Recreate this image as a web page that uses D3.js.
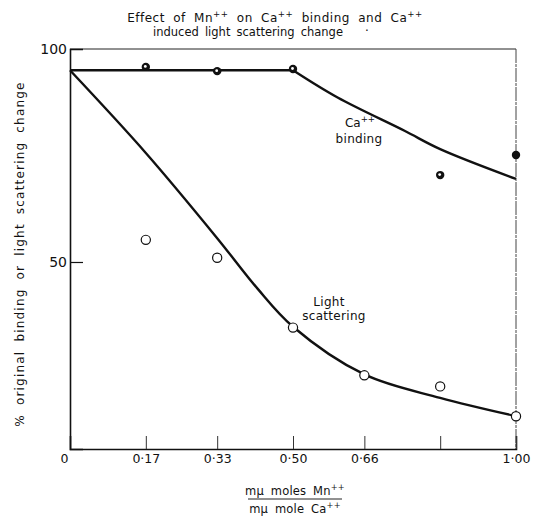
<!DOCTYPE html>
<html>
<head>
<meta charset="utf-8">
<title>Effect of Mn++ on Ca++ binding</title>
<script src="https://cdnjs.cloudflare.com/ajax/libs/d3/7.8.5/d3.min.js"></script>
<style>
	body { margin: 0; background: #fff; }
	text { font-family: "DejaVu Sans", sans-serif; fill: #111; }
</style>
</head>
<body>
<script>
	// ratio Mn/Ca (x) and % of original (y)
	var xTicks = [0, 0.17, 0.33, 0.50, 0.66, 0.83, 1.00];
	var xTickLabels = ['0', '0\u00b717', '0\u00b733', '0\u00b750', '0\u00b766', '', '1\u00b700'];
	var yTicks = [100, 50];

	// measured points
	var caX = [0.17, 0.33, 0.50, 0.83, 1.00];
	var caY = [95.8, 94.8, 95.3, 70.4, 75.1];
	var lightX = [0.17, 0.33, 0.50, 0.66, 0.83, 1.00];
	var lightY = [55.2, 51.0, 34.6, 23.4, 20.8, 13.8];

	// hand drawn fitted curves
	var caFlatX = [0, 0.50];
	var caFlatY = [95, 95];
	var caCurveX = [0.50, 0.60, 0.75, 0.83, 1.00];
	var caCurveY = [95, 88.6, 80.8, 76.5, 69.5];
	var lightCurveX = [0, 0.17, 0.33, 0.42, 0.50, 0.66, 0.83, 1.00];
	var lightCurveY = [95, 75.6, 55.6, 43.8, 34.8, 23.6, 18.1, 13.8];

	var width = 533, height = 518;
	var margin = {left: 70, right: 17, top: 49, bottom: 69};

	var svg = d3.select('body').append('svg')
		.attr('width', width)
		.attr('height', height);

	var x = d3.scaleLinear().domain([0, 1]).range([margin.left, width - margin.right]);
	var y = d3.scaleLinear().domain([6.1, 100]).range([height - margin.bottom, margin.top]);

	// frame: top and right thin
	svg.append('line')
		.attr('x1', x(0)).attr('x2', x(1))
		.attr('y1', y(100)).attr('y2', y(100))
		.attr('stroke', '#222').attr('stroke-width', 1);
	svg.append('line')
		.attr('x1', x(1)).attr('x2', x(1))
		.attr('y1', y(100)).attr('y2', y(6.1))
		.attr('stroke', '#444').attr('stroke-width', 1)
		.attr('stroke-dasharray', '14,1,3,1');

	// x axis, ticks pointing in
	var xAxis = d3.axisBottom(x)
		.tickValues(xTicks)
		.tickSize(-13)
		.tickPadding(5)
		.tickFormat(function (d, i) { return xTickLabels[i]; });
	var gx = svg.append('g')
		.attr('transform', 'translate(0,' + y(6.1) + ')')
		.call(xAxis);
	gx.select('.domain').attr('stroke', '#111').attr('stroke-width', 1.6);
	gx.selectAll('.tick line').attr('stroke', '#333').attr('stroke-width', 1);
	gx.selectAll('.tick text')
		.attr('font-size', 12.5)
		.attr('font-family', '"DejaVu Sans", sans-serif')
		.attr('dx', function (d) { return d === 0 ? -6 : 0; });

	// y axis
	var yAxis = d3.axisLeft(y)
		.tickValues(yTicks)
		.tickSize(-13)
		.tickPadding(3)
		.tickFormat(d3.format('d'));
	var gy = svg.append('g')
		.attr('transform', 'translate(' + x(0) + ',0)')
		.call(yAxis);
	gy.select('.domain').attr('stroke', '#111').attr('stroke-width', 1.6);
	gy.selectAll('.tick line').attr('stroke', '#111').attr('stroke-width', 1.2);
	gy.selectAll('.tick text')
		.attr('font-size', 14)
		.attr('font-family', '"DejaVu Sans", sans-serif')
		.attr('x', -3);
	gy.selectAll('.tick')
		.filter(function (d) { return d === 100; })
		.select('line').remove();

	// curves
	var straight = d3.line()
		.x(function (d) { return x(d[0]); })
		.y(function (d) { return y(d[1]); });
	var smooth = d3.line()
		.x(function (d) { return x(d[0]); })
		.y(function (d) { return y(d[1]); })
		.curve(d3.curveCatmullRom.alpha(0.5));

	svg.append('path')
		.datum(d3.zip(caFlatX, caFlatY))
		.attr('d', straight)
		.attr('fill', 'none')
		.attr('stroke', '#111')
		.attr('stroke-width', 2.4);

	svg.append('path')
		.datum(d3.zip(caCurveX, caCurveY))
		.attr('d', smooth)
		.attr('fill', 'none')
		.attr('stroke', '#111')
		.attr('stroke-width', 2.4);

	svg.append('path')
		.datum(d3.zip(lightCurveX, lightCurveY))
		.attr('d', smooth)
		.attr('fill', 'none')
		.attr('stroke', '#111')
		.attr('stroke-width', 2.4);

	// Ca++ binding points: dark dots with a little white centre
	var ca = svg.append('g').selectAll('g')
		.data(d3.zip(caX, caY))
		.enter()
		.append('g')
		.attr('transform', function (d) { return 'translate(' + x(d[0]) + ',' + y(d[1]) + ')'; });
	ca.append('circle')
		.attr('r', 4.2)
		.attr('fill', '#111');
	ca.filter(function (d) { return d[0] < 1; })
		.append('circle')
		.attr('r', 1.4)
		.attr('cx', -0.5).attr('cy', -0.5)
		.attr('fill', '#fff');

	// light scattering points: open circles
	svg.append('g').selectAll('circle')
		.data(d3.zip(lightX, lightY))
		.enter()
		.append('circle')
		.attr('cx', function (d) { return x(d[0]); })
		.attr('cy', function (d) { return y(d[1]); })
		.attr('r', 4.6)
		.attr('fill', '#fff')
		.attr('stroke', '#111')
		.attr('stroke-width', 1.2);

	// text with ++ superscripts; parts alternate plain and sup
	function supText(parent, px, py, parts, size, spacing, wordSpacing) {
		var t = parent.append('text')
			.attr('x', px).attr('y', py)
			.attr('font-size', size)
			.attr('text-anchor', 'middle')
			.attr('letter-spacing', spacing || 0)
			.attr('word-spacing', wordSpacing == null ? 4 : wordSpacing);
		var raised = false;
		parts.forEach(function (p) {
			var s = t.append('tspan');
			if (p.sup) {
				s.attr('dy', -size * 0.42).attr('font-size', size * 0.72).text(p.sup);
				raised = true;
			} else {
				if (raised) s.attr('dy', size * 0.42);
				raised = false;
				s.text(p.t);
			}
		});
		return t;
	}

	// title
	supText(svg, 275, 22, [
		{t: 'Effect of Mn'}, {sup: '++'}, {t: ' on Ca'}, {sup: '++'},
		{t: ' binding and Ca'}, {sup: '++'}
	], 12, 0.5);
	supText(svg, 248, 36, [{t: 'induced light scattering change'}], 11.5, 0, 2.5);
	svg.append('text')
		.attr('x', 365).attr('y', 35)
		.attr('font-size', 12)
		.text('\u00b7');

	// curve labels
	supText(svg, 360, 127, [{t: 'Ca'}, {sup: '++'}], 12);
	supText(svg, 359, 143, [{t: 'binding'}], 12, 0.3);
	supText(svg, 329, 306, [{t: 'Light'}], 12, 0.3);
	supText(svg, 334, 320, [{t: 'scattering'}], 12, 0.3);

	// y axis title
	supText(svg, 0, 0, [{t: '% original binding or light scattering change'}], 12, 1.2)
		.attr('transform', 'translate(24,254) rotate(-90)');

	// x axis title as a fraction
	supText(svg, 295, 495, [{t: 'm\u03bc moles Mn'}, {sup: '++'}], 11.5, 0.2, 3);
	svg.append('line')
		.attr('x1', 248).attr('x2', 342)
		.attr('y1', 499).attr('y2', 499)
		.attr('stroke', '#222').attr('stroke-width', 1);
	supText(svg, 295, 513, [{t: 'm\u03bc mole Ca'}, {sup: '++'}], 11.5, 0.2, 3);
</script>
</body>
</html>
